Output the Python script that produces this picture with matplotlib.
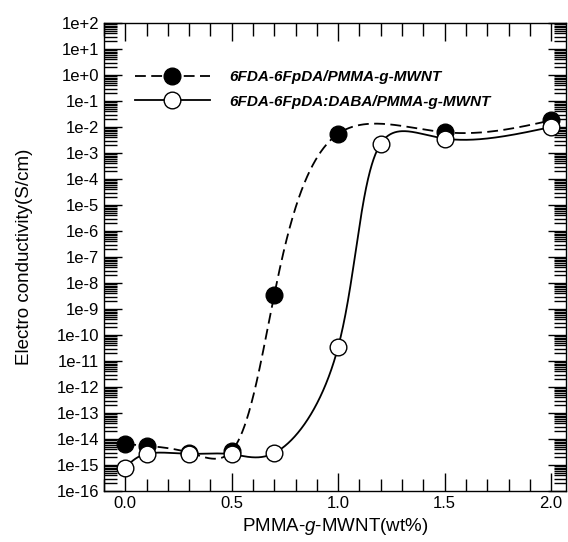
import numpy as np
import matplotlib
matplotlib.use("Agg")
import matplotlib.pyplot as plt
from matplotlib.ticker import FixedLocator, FuncFormatter, MultipleLocator, LogLocator, NullFormatter

plt.rcParams["font.family"] = ["Liberation Sans", "DejaVu Sans"]
plt.rcParams["mathtext.fontset"] = "custom"
plt.rcParams["mathtext.rm"] = "Liberation Sans"
plt.rcParams["mathtext.it"] = "Liberation Sans:italic"

# data
x_filled = [0.0, 0.1, 0.3, 0.5, 0.7, 1.0, 1.5, 2.0]
y_filled = [6.5e-15, 5.5e-15, 3.0e-15, 3.5e-15, 3.5e-9, 5.5e-3, 6.3e-3, 1.8e-2]

x_open = [0.0, 0.1, 0.3, 0.5, 0.7, 1.0, 1.2, 1.5, 2.0]
y_open = [8e-16, 2.7e-15, 2.7e-15, 2.6e-15, 2.9e-15, 3.5e-11, 2.3e-3, 3.6e-3, 1.0e-2]

label_filled = "6FDA-6FpDA/PMMA-g-MWNT"
label_open = "6FDA-6FpDA:DABA/PMMA-g-MWNT"


def natural_spline(t, y, ts):
    t = np.asarray(t, float)
    y = np.asarray(y, float)
    n = len(t)
    h = np.diff(t)
    A = np.zeros((n, n))
    b = np.zeros(n)
    A[0, 0] = A[-1, -1] = 1
    for i in range(1, n - 1):
        A[i, i - 1] = h[i - 1]
        A[i, i] = 2 * (h[i - 1] + h[i])
        A[i, i + 1] = h[i]
        b[i] = 3 * ((y[i + 1] - y[i]) / h[i] - (y[i] - y[i - 1]) / h[i - 1])
    c = np.linalg.solve(A, b)
    bb = (y[1:] - y[:-1]) / h - h * (2 * c[:-1] + c[1:]) / 3
    d = (c[1:] - c[:-1]) / (3 * h)
    idx = np.clip(np.searchsorted(t, ts) - 1, 0, n - 2)
    dt = ts - t[idx]
    return y[idx] + bb[idx] * dt + c[idx] * dt**2 + d[idx] * dt**3


def smooth_curve(x, y, alpha=0.3):
    # parametric spline on screen-like units
    px = np.asarray(x) * 213.0
    py = np.log10(y) * 26.0
    seg = np.hypot(np.diff(px), np.diff(py)) ** alpha
    t = np.concatenate([[0], np.cumsum(seg)])
    ts = np.linspace(0, t[-1], 1000)
    cx = natural_spline(t, px, ts) / 213.0
    cy = 10 ** (natural_spline(t, py, ts) / 26.0)
    return cx, cy


fig = plt.figure(figsize=(5.68, 5.42), dpi=100)
ax = fig.add_axes([0.183, 0.094, 0.8135, 0.8636])

xs1, ys1 = smooth_curve(x_filled, y_filled)
xs2, ys2 = smooth_curve(x_open, y_open)

ax.plot(xs1, ys1, color="black", lw=1.3, dashes=(6, 3))
ax.plot(xs2, ys2, color="black", lw=1.3)
ax.plot(x_filled, y_filled, "o", ms=12, mfc="black", mec="black", mew=1)
ax.plot(x_open, y_open, "o", ms=12, mfc="white", mec="black", mew=1)

# legend proxies
h1, = ax.plot([], [], color="black", lw=1.3, dashes=(6, 3), marker="o",
              ms=12, mfc="black", mec="black")
h2, = ax.plot([], [], color="black", lw=1.3, marker="o",
              ms=12, mfc="white", mec="black")
ax.legend([h1, h2], [label_filled, label_open], loc="upper left",
          bbox_to_anchor=(0.067, 0.899), frameon=False, borderaxespad=0,
          borderpad=0, handlelength=4.9, handletextpad=1.3, labelspacing=0.68,
          prop={"weight": "bold", "style": "italic", "size": 11})

ax.set_yscale("log")
ax.set_xlim(-0.1, 2.07)
ax.set_ylim(1e-16, 1e2)

ax.yaxis.set_major_locator(FixedLocator([10.0**e for e in range(-16, 3)]))
ax.yaxis.set_minor_locator(LogLocator(base=10, subs=np.arange(2, 10), numticks=200))
ax.yaxis.set_minor_formatter(NullFormatter())
ax.yaxis.set_major_formatter(FuncFormatter(lambda v, p: "1e%+d" % round(np.log10(v))))
ax.xaxis.set_major_locator(MultipleLocator(0.5))
ax.xaxis.set_minor_locator(MultipleLocator(0.1))
ax.xaxis.set_major_formatter(FuncFormatter(lambda v, p: "%.1f" % v))

ax.tick_params(which="both", direction="in", top=True, right=True, labelsize=12)
ax.tick_params(which="major", length=13, width=1)
ax.tick_params(which="minor", length=9, width=1)

for s in ax.spines.values():
    s.set_linewidth(1)

ax.set_xlabel("PMMA-$\\it{g}$-MWNT(wt%)", fontsize=13.5, labelpad=4)
ax.set_ylabel("Electro conductivity(S/cm)", fontsize=13.5, labelpad=17)

fig.savefig("out.png", dpi=100)
